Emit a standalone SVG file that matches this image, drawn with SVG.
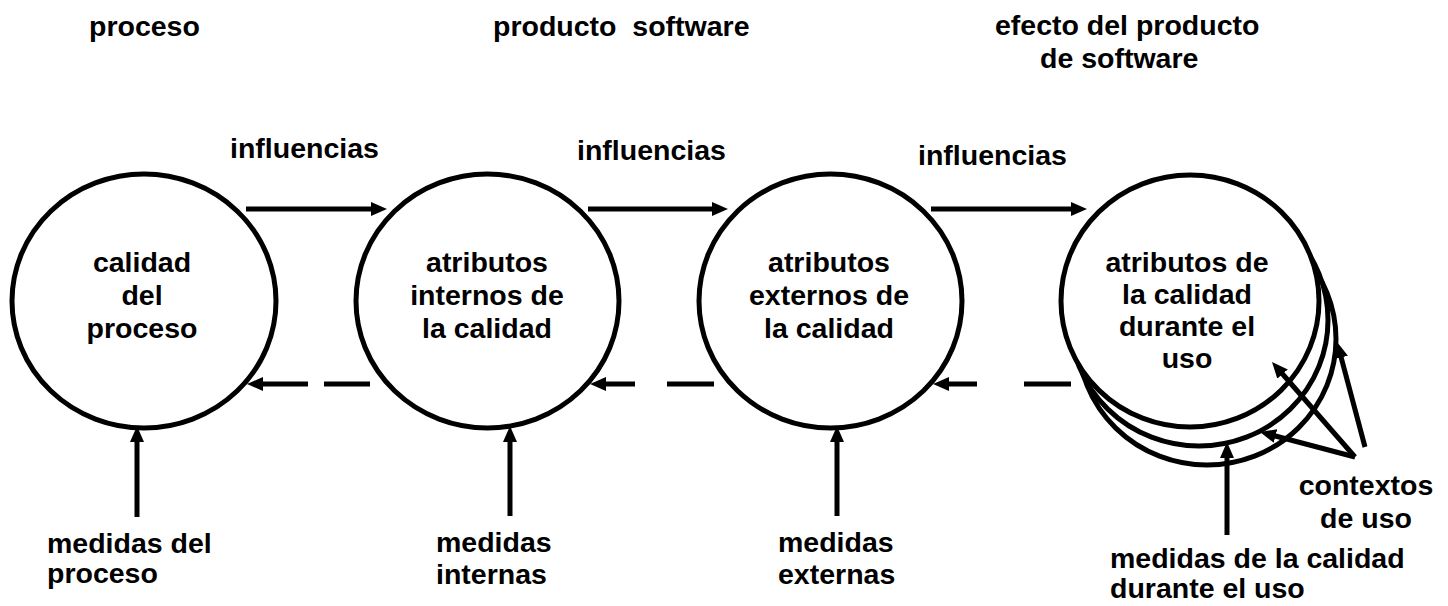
<svg xmlns="http://www.w3.org/2000/svg" width="1448" height="606" viewBox="0 0 1448 606">
<style>
text{font-family:"Liberation Sans",Arial,sans-serif;font-weight:bold;font-size:28.5px;fill:#000}
.c{text-anchor:middle}
.node{fill:#fff;stroke:#000;stroke-width:5}
.ln{fill:none;stroke:#000;stroke-width:5}
.dash{fill:none;stroke:#000;stroke-width:5}
</style>
<defs>
<marker id="ah" viewBox="0 0 16 14" refX="6" refY="7" markerWidth="16" markerHeight="14" markerUnits="userSpaceOnUse" orient="auto">
<path d="M0,0 L16,7 L0,14 z" fill="#000"/>
</marker>
</defs>
<rect width="1448" height="606" fill="#fff"/>
<g id="headers">
<text x="89" y="36">proceso</text>
<text x="493" y="36" xml:space="preserve">producto  software</text>
<text x="995" y="35">efecto del producto</text>
<text x="1040" y="68">de software</text>
</g>
<g id="n1">
<ellipse class="node" cx="144" cy="301" rx="132" ry="127"/>
<text class="c" x="142" y="272">calidad</text>
<text class="c" x="142" y="305">del</text>
<text class="c" x="142" y="338">proceso</text>
</g>
<g id="n2">
<ellipse class="node" cx="487.5" cy="301" rx="131.5" ry="127"/>
<text class="c" x="487" y="272">atributos</text>
<text class="c" x="487" y="305">internos de</text>
<text class="c" x="487" y="338">la calidad</text>
</g>
<g id="n3">
<ellipse class="node" cx="830.5" cy="301" rx="131.5" ry="127"/>
<text class="c" x="829" y="272">atributos</text>
<text class="c" x="829" y="305">externos de</text>
<text class="c" x="829" y="338">la calidad</text>
</g>
<g id="n4">
<ellipse class="node" cx="1207" cy="339" rx="129" ry="126"/>
<ellipse class="node" cx="1199" cy="320" rx="129" ry="126"/>
<ellipse class="node" cx="1190" cy="301" rx="129" ry="126"/>
<text class="c" x="1187" y="272">atributos de</text>
<text class="c" x="1187" y="304">la calidad</text>
<text class="c" x="1187" y="336">durante el</text>
<text class="c" x="1187" y="368">uso</text>
</g>
<g id="labels">
<text x="230" y="158">influencias</text>
<text x="577" y="160">influencias</text>
<text x="918" y="165">influencias</text>
<text x="47" y="553">medidas del</text>
<text x="47" y="583">proceso</text>
<text x="436" y="552">medidas</text>
<text x="436" y="584">internas</text>
<text x="778" y="552">medidas</text>
<text x="778" y="584">externas</text>
<text class="c" x="1366" y="495">contextos</text>
<text class="c" x="1366" y="528">de uso</text>
<text x="1110" y="568">medidas de la calidad</text>
<text x="1110" y="598">durante el uso</text>
</g>
<g id="connectors">
<line class="ln" x1="246" y1="209" x2="377" y2="209" marker-end="url(#ah)"/>
<line class="ln" x1="588" y1="209" x2="718" y2="209" marker-end="url(#ah)"/>
<line class="ln" x1="931" y1="209" x2="1077" y2="209" marker-end="url(#ah)"/>
<line class="dash" x1="370" y1="384" x2="324" y2="384"/>
<line class="ln" x1="308" y1="384" x2="257" y2="384" marker-end="url(#ah)"/>
<line class="dash" x1="714" y1="384" x2="667" y2="384"/>
<line class="ln" x1="635" y1="384" x2="600" y2="384" marker-end="url(#ah)"/>
<line class="dash" x1="1071" y1="384" x2="1024" y2="384"/>
<line class="ln" x1="977" y1="384" x2="943" y2="384" marker-end="url(#ah)"/>
<line class="ln" x1="137" y1="517" x2="137" y2="436" marker-end="url(#ah)"/>
<line class="ln" x1="510" y1="516" x2="510" y2="436" marker-end="url(#ah)"/>
<line class="ln" x1="837" y1="516" x2="837" y2="436" marker-end="url(#ah)"/>
<line class="ln" x1="1227" y1="535" x2="1227" y2="452" marker-end="url(#ah)"/>
<line class="ln" x1="1355" y1="457" x2="1278.6" y2="369.5" marker-end="url(#ah)"/>
<line class="ln" x1="1355" y1="457" x2="1269.7" y2="434.5" marker-end="url(#ah)"/>
<line class="ln" x1="1365" y1="447" x2="1339.6" y2="351.7" marker-end="url(#ah)"/>
</g>
</svg>
